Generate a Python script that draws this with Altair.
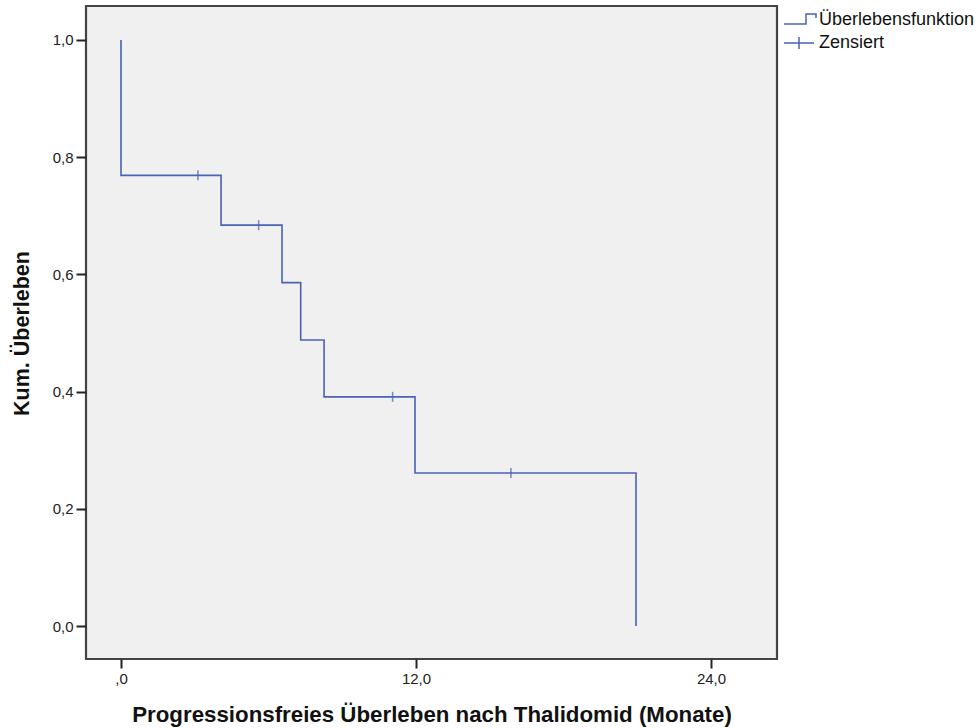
import altair as alt
import pandas as pd

# Kaplan-Meier step points (time in months, cumulative survival)
step_times = [0.0, 0.0, 4.07, 6.55, 7.31, 8.26, 11.96, 20.95]
step_surv = [1.0, 0.769, 0.684, 0.586, 0.488, 0.391, 0.261, 0.0]

# censored observations
censor_times = [3.13, 5.60, 11.05, 15.86]
censor_surv = [0.769, 0.684, 0.391, 0.261]

legend_kinds = ["Überlebensfunktion", "Zensiert"]
x_ticks = [0, 12, 24]
y_ticks = [0.0, 0.2, 0.4, 0.6, 0.8, 1.0]

BLUE = "#4a62b2"
FONT = "Liberation Sans, Arial, sans-serif"

steps = pd.DataFrame({"t": step_times, "s": step_surv, "i": list(range(len(step_times)))})
cens = pd.DataFrame({"t": censor_times, "s": censor_surv})
leg = pd.concat([
    pd.DataFrame({"t": step_times, "s": step_surv, "kind": legend_kinds[0]}),
    pd.DataFrame({"t": censor_times, "s": censor_surv, "kind": legend_kinds[1]}),
])

xscale = alt.Scale(domain=[-1.424, 26.685], nice=False, zero=False)
yscale = alt.Scale(domain=[-0.0563, 1.058], nice=False, zero=False)

xaxis = alt.Axis(
    values=x_ticks,
    labelExpr="datum.value == 0 ? ',0' : replace(format(datum.value, '.1f'), '.', ',')",
    title="Progressionsfreies Überleben nach Thalidomid (Monate)",
    tickSize=9, labelPadding=3, titleY=62, titleBaseline="alphabetic",
    titleFontSize=22.3,
)
yaxis = alt.Axis(
    values=y_ticks,
    labelExpr="replace(format(datum.value, '.1f'), '.', ',')",
    title="Kum. Überleben",
    tickSize=10, labelPadding=3,
    titleX=-64, titleY=327, titleAngle=-90, titleAlign="center", titleBaseline="middle",
    titleFontSize=21.5,
)

line = alt.Chart(steps).mark_line(interpolate="step-after", color=BLUE, strokeWidth=1.6).encode(
    x=alt.X("t:Q", scale=xscale, axis=xaxis),
    y=alt.Y("s:Q", scale=yscale, axis=yaxis),
    order=alt.Order("i:Q"),
)

ticks = alt.Chart(cens).mark_tick(orient="vertical", color=BLUE, size=10, thickness=1.6).encode(
    x=alt.X("t:Q", scale=xscale),
    y=alt.Y("s:Q", scale=yscale),
)

step_path = "M-1,0.4 H1.2 V-0.6 H2.2 V-0.2"
cross_path = "M-1,0 H2 M0.5,-0.6 V0.6"

legend_layer = alt.Chart(leg).mark_point(opacity=0, filled=False, color=BLUE).encode(
    x=alt.X("t:Q", scale=xscale),
    y=alt.Y("s:Q", scale=yscale),
    shape=alt.Shape(
        "kind:N",
        scale=alt.Scale(domain=legend_kinds, range=[step_path, cross_path]),
        legend=alt.Legend(
            title=None, orient="none", legendX=697, legendY=3,
            symbolSize=400, symbolStrokeWidth=1.5, symbolStrokeColor=BLUE,
            symbolFillColor="transparent", symbolOpacity=1,
            labelFont=FONT, labelFontSize=18, labelColor="#111", labelOffset=14,
            rowPadding=3, padding=0,
        ),
    ),
)

chart = alt.layer(line, ticks, legend_layer).properties(
    width=691, height=653,
    autosize=alt.AutoSizeParams(type="none"),
    padding={"left": 86, "top": 6, "right": 201, "bottom": 69},
    background="white",
).configure_view(
    fill="#f0f0f0", stroke="#444444", strokeWidth=2.2,
).configure_axis(
    domain=False, grid=False, tickColor="#222222", tickWidth=2,
    labelFont=FONT, labelFontSize=15, labelColor="#222222",
    titleFont=FONT, titleFontWeight="bold", titleColor="#111111",
)

chart.save("out.html", embed_options={"renderer": "svg", "actions": False})
